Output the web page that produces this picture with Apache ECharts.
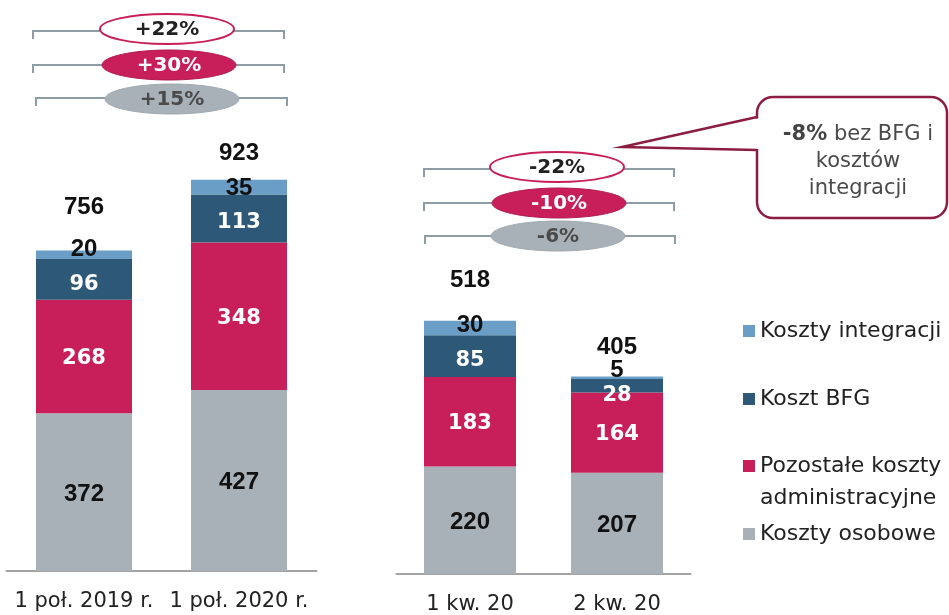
<!DOCTYPE html>
<html>
<head>
<meta charset="utf-8">
<script src="https://cdn.jsdelivr.net/npm/echarts@6/dist/echarts.min.js"></script>
<style>
  html, body { margin: 0; padding: 0; background: #fff; }
  #chart { width: 949px; height: 615px; }
</style>
</head>
<body>
<div id="chart"></div>
<script>
// półrocza
const categoriesH = ['1 poł. 2019 r.', '1 poł. 2020 r.'];
const osoboweH = [372, 427];
const pozostaleH = [268, 348];
const bfgH = [96, 113];
const integracjaH = [20, 35];
const totalsH = [756, 923];

// kwartały
const categoriesQ = ['1 kw. 20', '2 kw. 20'];
const osoboweQ = [220, 207];
const pozostaleQ = [183, 164];
const bfgQ = [85, 28];
const integracjaQ = [30, 5];
const totalsQ = [518, 405];

// zmiany r/r i q/q (total, pozostałe, osobowe)
const changesH = ['+22%', '+30%', '+15%'];
const changesQ = ['-22%', '-10%', '-6%'];

const names = ['Koszty osobowe', 'Pozostałe koszty administracyjne', 'Koszt BFG', 'Koszty integracji'];
const colors = ['#a9b1b8', '#c81f5b', '#2d5877', '#6a9ec6'];

// przesunięcia etykiet w pionie (px), żeby nie nachodziły na siebie
const nudgeH = { integracja: [-5, 1], bfg: [5, 4], total: [31, 14] };
const nudgeQ = { integracja: [-3, -7], bfg: [4, 10], total: [28, 17] };

const chart = echarts.init(document.getElementById('chart'));

const blackLabel = { color: '#111', fontFamily: 'Liberation Sans', fontWeight: 'bold', fontSize: 24 };
const whiteLabel = { color: '#fff', fontFamily: 'DejaVu Sans', fontWeight: 'bold', fontSize: 21 };

function withNudge(values, nudge) {
  return values.map((v, i) => ({ value: v, label: { offset: [0, nudge ? nudge[i] : 2] } }));
}

function groupSeries(idx, osobowe, pozostale, bfg, integracja, totals, nudge, barWidth) {
  const stack = 'g' + idx;
  const base = { type: 'bar', stack: stack, xAxisIndex: idx, yAxisIndex: idx, barWidth: barWidth };
  return [
    Object.assign({}, base, {
      name: names[0], itemStyle: { color: colors[0] },
      label: Object.assign({ show: true, position: 'inside' }, blackLabel),
      data: withNudge(osobowe)
    }),
    Object.assign({}, base, {
      name: names[1], itemStyle: { color: colors[1] },
      label: Object.assign({ show: true, position: 'inside' }, whiteLabel),
      data: withNudge(pozostale)
    }),
    Object.assign({}, base, {
      name: names[2], itemStyle: { color: colors[2] },
      label: Object.assign({ show: true, position: 'inside' }, whiteLabel),
      data: withNudge(bfg, nudge.bfg)
    }),
    Object.assign({}, base, {
      name: names[3], itemStyle: { color: colors[3] },
      label: Object.assign({ show: true, position: 'inside' }, blackLabel),
      data: withNudge(integracja, nudge.integracja)
    }),
    Object.assign({}, base, {
      name: 'suma', itemStyle: { color: 'transparent' },
      data: totals.map((t, i) => ({
        value: 0,
        label: Object.assign({ show: true, position: 'top', distance: nudge.total[i], formatter: String(t) }, blackLabel)
      }))
    })
  ];
}

function bracket(x1, x2, y) {
  return {
    type: 'polyline', z: 10,
    shape: { points: [[x1, y + 8], [x1, y], [x2, y], [x2, y + 8]] },
    style: { stroke: '#8e9ca6', lineWidth: 2, fill: null }
  };
}

function pill(cx, cy, text, kind) {
  const styles = {
    outline: { fill: '#fff', stroke: '#c81f5b', lineWidth: 2, txt: '#222' },
    red: { fill: '#c81f5b', stroke: '#b01a50', lineWidth: 1, txt: '#fff' },
    grey: { fill: '#a9b1b8', stroke: '#a0a8af', lineWidth: 1, txt: '#4a4a4a' }
  };
  const s = styles[kind];
  return [
    { type: 'ellipse', z: 11, shape: { cx: cx, cy: cy, rx: 67, ry: 15 },
      style: { fill: s.fill, stroke: s.stroke, lineWidth: s.lineWidth } },
    { type: 'text', z: 12, x: cx, y: cy + 1,
      style: { text: text, fill: s.txt, font: 'bold 20px "DejaVu Sans"',
               align: 'center', verticalAlign: 'middle', textAlign: 'center', textVerticalAlign: 'middle' } }
  ];
}

const textStyleBase = { align: 'left', verticalAlign: 'middle', textAlign: 'left', textVerticalAlign: 'middle' };

const graphics = [].concat(
  bracket(33, 284, 31), pill(167, 29, changesH[0], 'outline'),
  bracket(33, 284, 65), pill(169, 65, changesH[1], 'red'),
  bracket(36, 287, 98), pill(172, 99, changesH[2], 'grey'),
  bracket(424, 674, 169), pill(557, 167, changesQ[0], 'outline'),
  bracket(424, 674, 203), pill(559, 203, changesQ[1], 'red'),
  bracket(425, 675, 236), pill(558, 236, changesQ[2], 'grey'),
  [
    { type: 'rect', z: 20, shape: { x: 757, y: 97, width: 190, height: 121, r: 16 },
      style: { fill: '#fff', stroke: '#8c1d40', lineWidth: 2.5 } },
    { type: 'polygon', z: 21, shape: { points: [[760, 118], [622, 147], [760, 149]] },
      style: { fill: '#fff' } },
    { type: 'polyline', z: 22, shape: { points: [[757, 117], [622, 147], [757, 150]] },
      style: { stroke: '#8c1d40', lineWidth: 2.5, fill: null } },
    { type: 'text', z: 23, x: 858, y: 162,
      style: {
        text: '{b|-8%} bez BFG i\nkosztów\nintegracji',
        rich: { b: { fontWeight: 'bold', fontFamily: 'DejaVu Sans', fontSize: 21, fill: '#444' } },
        font: '21px "DejaVu Sans"', fill: '#4a4a4a', lineHeight: 27,
        align: 'center', verticalAlign: 'middle', textAlign: 'center', textVerticalAlign: 'middle'
      } },
    // druga linia opisu legendy
    { type: 'text', z: 5, x: 760, y: 498,
      style: Object.assign({ text: 'administracyjne', font: '22px "DejaVu Sans"', fill: '#222' }, textStyleBase) }
  ]
);

function legendItem(name, centerY, label) {
  return {
    data: [name], left: 743, top: centerY - 12, padding: 0,
    icon: 'rect', itemWidth: 12, itemHeight: 12, selectedMode: false,
    formatter: () => label || name,
    textStyle: { fontFamily: 'DejaVu Sans', fontSize: 22, color: '#222' }
  };
}

const axisLabel = { fontFamily: 'DejaVu Sans', fontSize: 21, color: '#222', margin: 20, interval: 0 };
const axisLine = { lineStyle: { color: '#a3a3a3', width: 2 } };

chart.setOption({
  animation: false,
  grid: [
    { left: 6.5, width: 310, top: 147, height: 424 },
    { left: 396.5, width: 294, top: 85, height: 490 }
  ],
  xAxis: [
    { type: 'category', gridIndex: 0, data: categoriesH, axisTick: { show: false }, axisLine: axisLine, axisLabel: axisLabel },
    { type: 'category', gridIndex: 1, data: categoriesQ, axisTick: { show: false }, axisLine: axisLine, axisLabel: axisLabel }
  ],
  yAxis: [
    { type: 'value', gridIndex: 0, min: 0, max: 1000, show: false, splitLine: { show: false } },
    { type: 'value', gridIndex: 1, min: 0, max: 1000, show: false, splitLine: { show: false } }
  ],
  legend: [
    legendItem(names[3], 332),
    legendItem(names[2], 400),
    legendItem(names[1], 467, 'Pozostałe koszty'),
    legendItem(names[0], 535)
  ],
  series: [].concat(
    groupSeries(0, osoboweH, pozostaleH, bfgH, integracjaH, totalsH, nudgeH, 96),
    groupSeries(1, osoboweQ, pozostaleQ, bfgQ, integracjaQ, totalsQ, nudgeQ, 92)
  ),
  graphic: graphics
});
</script>
</body>
</html>
